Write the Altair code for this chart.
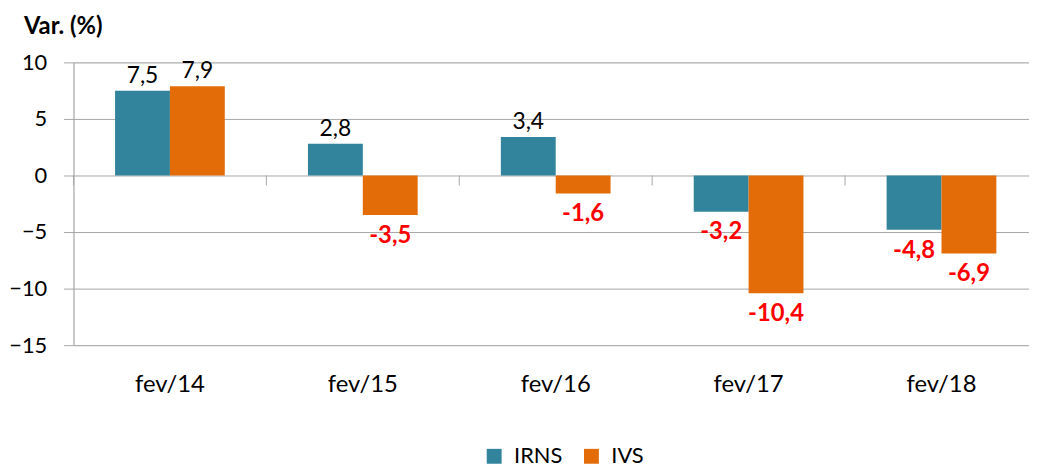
import altair as alt
import pandas as pd

categories = ["fev/14", "fev/15", "fev/16", "fev/17", "fev/18"]
series = ["IRNS", "IVS"]
irns = [7.5, 2.8, 3.4, -3.2, -4.8]
ivs = [7.9, -3.5, -1.6, -10.4, -6.9]
colors = ["#31849B", "#E36C09"]
y_ticks = [-15, -10, -5, 0, 5, 10]

F = "Lato"
GRAY = "#A6A6A6"

rows = []
for s, vals in zip(series, [irns, ivs]):
    for c, v in zip(categories, vals):
        rows.append({"cat": c, "serie": s, "v": v,
                     "label": f"{v:.1f}".replace(".", ",")})
df = pd.DataFrame(rows)
ticks_df = pd.DataFrame({"cat": categories})

x_enc = alt.X("cat:N", sort=categories,
              scale=alt.Scale(paddingInner=0, paddingOuter=0),
              axis=alt.Axis(title=None, domain=False, ticks=False, grid=False,
                            labelAngle=0, labelAlign="center", labelBaseline="top",
                            labelPadding=28, labelFontSize=24,
                            labelFont=F, labelColor="#000000"))
xoff = alt.XOffset("serie:N", sort=series,
                   scale=alt.Scale(paddingInner=0, paddingOuter=0.758))
y_enc = alt.Y("v:Q",
              scale=alt.Scale(domain=[-15, 10], nice=False, zero=False),
              axis=alt.Axis(values=y_ticks, title=None, grid=True, gridColor=GRAY,
                            domainColor=GRAY, tickColor=GRAY, tickSize=10,
                            labelPadding=17, labelFontSize=22, labelFont=F,
                            labelColor="#000000"))

base = alt.Chart(df)

bars = base.mark_bar(opacity=1).encode(
    x=x_enc, xOffset=xoff, y=y_enc,
    color=alt.Color("serie:N", sort=series,
                    scale=alt.Scale(domain=series, range=colors),
                    legend=alt.Legend(title=None, orient="none", legendX=413,
                                      legendY=386, direction="horizontal",
                                      symbolType="square", symbolSize=225,
                                      symbolStrokeWidth=0, labelFontSize=22,
                                      labelFont=F, labelColor="#000000",
                                      labelOffset=9, columnPadding=18)),
)

pos = base.transform_filter("datum.v >= 0").mark_text(
    baseline="alphabetic", dy=-8, fontSize=23, font=F, color="#000000"
).encode(x=x_enc, xOffset=xoff, y=y_enc, text="label:N")

neg = base.transform_filter("datum.v < 0").mark_text(
    baseline="top", dy=9, fontSize=24, font=F, fontWeight="bold", color="#FF0000"
).encode(x=x_enc, xOffset=xoff, y=y_enc, text="label:N")

cat_ticks = alt.Chart(ticks_df).mark_rule(color=GRAY, strokeWidth=1).encode(
    x=alt.X("cat:N", sort=categories, bandPosition=0),
    y=alt.datum(0), y2=alt.datum(-0.88),
)

chart = alt.layer(cat_ticks, bars, pos, neg).properties(
    width=972, height=285,
    title=alt.TitleParams("Var. (%)", anchor="start", frame="group", fontSize=24,
                          fontWeight="bold", font=F, color="#000000",
                          dx=-50, offset=13),
    autosize=alt.AutoSizeParams(type="none"),
    padding={"left": 66, "top": 53, "right": -9, "bottom": 123},
).configure_view(stroke=None).configure(background="white")

chart.save("out.html", embed_options={"renderer": "svg", "actions": False})
